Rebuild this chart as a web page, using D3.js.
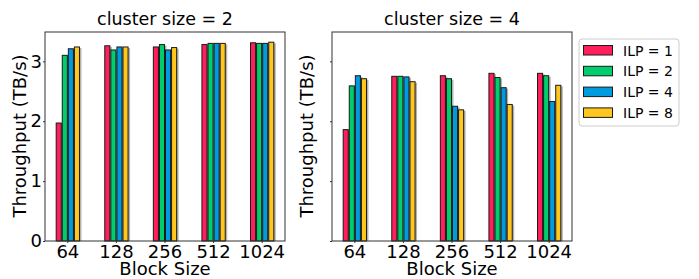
<!DOCTYPE html>
<html>
<head>
<meta charset="utf-8">
<script src="https://cdn.jsdelivr.net/npm/d3@7"></script>
<style>
  body { margin: 0; background: #fff; }
  text { font-family: "DejaVu Sans", sans-serif; fill: #000; }
</style>
</head>
<body>
<div id="chart"></div>
<script>
// block sizes on the x axis
var blockSizes = ["64", "128", "256", "512", "1024"];
var series = ["ILP = 1", "ILP = 2", "ILP = 4", "ILP = 8"];
var colors = ["#ff1f5b", "#00cd6c", "#009ade", "#ffc61e"];
var yTicks = [0, 1, 2, 3];

// throughput (TB/s), one row per ILP value
var cluster2 = [
    [1.97, 3.26, 3.24, 3.28, 3.31],
    [3.10, 3.19, 3.28, 3.30, 3.30],
    [3.21, 3.24, 3.19, 3.30, 3.30],
    [3.24, 3.24, 3.23, 3.30, 3.32]
];
var cluster4 = [
    [1.86, 2.75, 2.76, 2.80, 2.80],
    [2.59, 2.75, 2.71, 2.73, 2.76],
    [2.76, 2.74, 2.25, 2.56, 2.33],
    [2.71, 2.66, 2.19, 2.28, 2.60]
];

var width = 699, height = 279;
var svg = d3.select("#chart").append("svg")
    .attr("width", width)
    .attr("height", height);

// shared y scale
var yScale = d3.scaleLinear().domain([0, 3.49]).range([241, 32]);

function drawPanel(left, right, title, data, showLabels) {
    var g = svg.append("g");

    var xScale = d3.scaleBand()
        .domain(blockSizes)
        .range([left, right])
        .paddingInner(0.5)
        .paddingOuter(0.22);
    var barW = xScale.bandwidth() / series.length;

    // bars with a soft shadow
    series.forEach(function(s, si) {
        var rows = blockSizes.map(function(b, bi) { return {b: b, v: data[si][bi]}; });
        g.selectAll(".shadow" + si)
            .data(rows)
            .enter().append("rect")
            .attr("x", function(d) { return xScale(d.b) + si * barW + 1.5; })
            .attr("y", function(d) { return yScale(d.v) + 1; })
            .attr("width", barW)
            .attr("height", function(d) { return yScale(0) - yScale(d.v) - 1; })
            .style("fill", "#000")
            .style("fill-opacity", 0.3);
    });
    series.forEach(function(s, si) {
        var rows = blockSizes.map(function(b, bi) { return {b: b, v: data[si][bi]}; });
        g.selectAll(".bar" + si)
            .data(rows)
            .enter().append("rect")
            .attr("x", function(d) { return xScale(d.b) + si * barW + 0.5; })
            .attr("y", function(d) { return yScale(d.v); })
            .attr("width", barW - 1)
            .attr("height", function(d) { return yScale(0) - yScale(d.v); })
            .style("fill", colors[si])
            .style("stroke", "#1a1a1a")
            .style("stroke-width", 1);
    });

    // axes
    var yAxis = d3.axisLeft(yScale).tickValues(yTicks).tickSize(2).tickPadding(1)
        .tickFormat(showLabels ? d3.format("d") : "");
    var xAxis = d3.axisBottom(xScale).tickSize(2).tickPadding(2);

    var ya = g.append("g").attr("transform", "translate(" + left + ",0)").call(yAxis);
    var xa = g.append("g").attr("transform", "translate(0," + yScale(0) + ")").call(xAxis);
    [ya, xa].forEach(function(a) {
        a.select(".domain").remove();
        a.selectAll("line").style("stroke", "#333");
        a.selectAll("text").style("font-size", "18px").style("font-family", "DejaVu Sans");
    });

    // frame
    g.append("rect")
        .attr("x", left).attr("y", yScale.range()[1])
        .attr("width", right - left)
        .attr("height", yScale(0) - yScale.range()[1])
        .style("fill", "none")
        .style("stroke", "#333")
        .style("stroke-width", 1);

    g.append("text")
        .attr("x", (left + right) / 2).attr("y", 25)
        .attr("text-anchor", "middle")
        .style("font-size", "17.5px")
        .text(title);

    g.append("text")
        .attr("x", (left + right) / 2).attr("y", 275)
        .attr("text-anchor", "middle")
        .style("font-size", "18px")
        .text("Block Size");

    g.append("text")
        .attr("transform", "translate(" + (left - 19) + ",136) rotate(-90)")
        .attr("text-anchor", "middle")
        .style("font-size", "18px")
        .text("Throughput (TB/s)");
}

drawPanel(45, 285, "cluster size = 2", cluster2, true);
drawPanel(332, 572, "cluster size = 4", cluster4, false);

// legend
var legend = svg.append("g").attr("transform", "translate(579,39)");
legend.append("rect")
    .attr("width", 100).attr("height", 87)
    .attr("rx", 3)
    .style("fill", "#fff")
    .style("stroke", "#ccc");
series.forEach(function(s, i) {
    var row = legend.append("g").attr("transform", "translate(0," + (6.5 + i * 20.8) + ")");
    row.append("rect")
        .attr("x", 4.5).attr("y", 0)
        .attr("width", 29).attr("height", 9.5)
        .style("fill", colors[i])
        .style("stroke", "#1a1a1a");
    row.append("text")
        .attr("x", 44).attr("y", 10)
        .style("font-size", "14px")
        .text(s);
});
</script>
</body>
</html>
